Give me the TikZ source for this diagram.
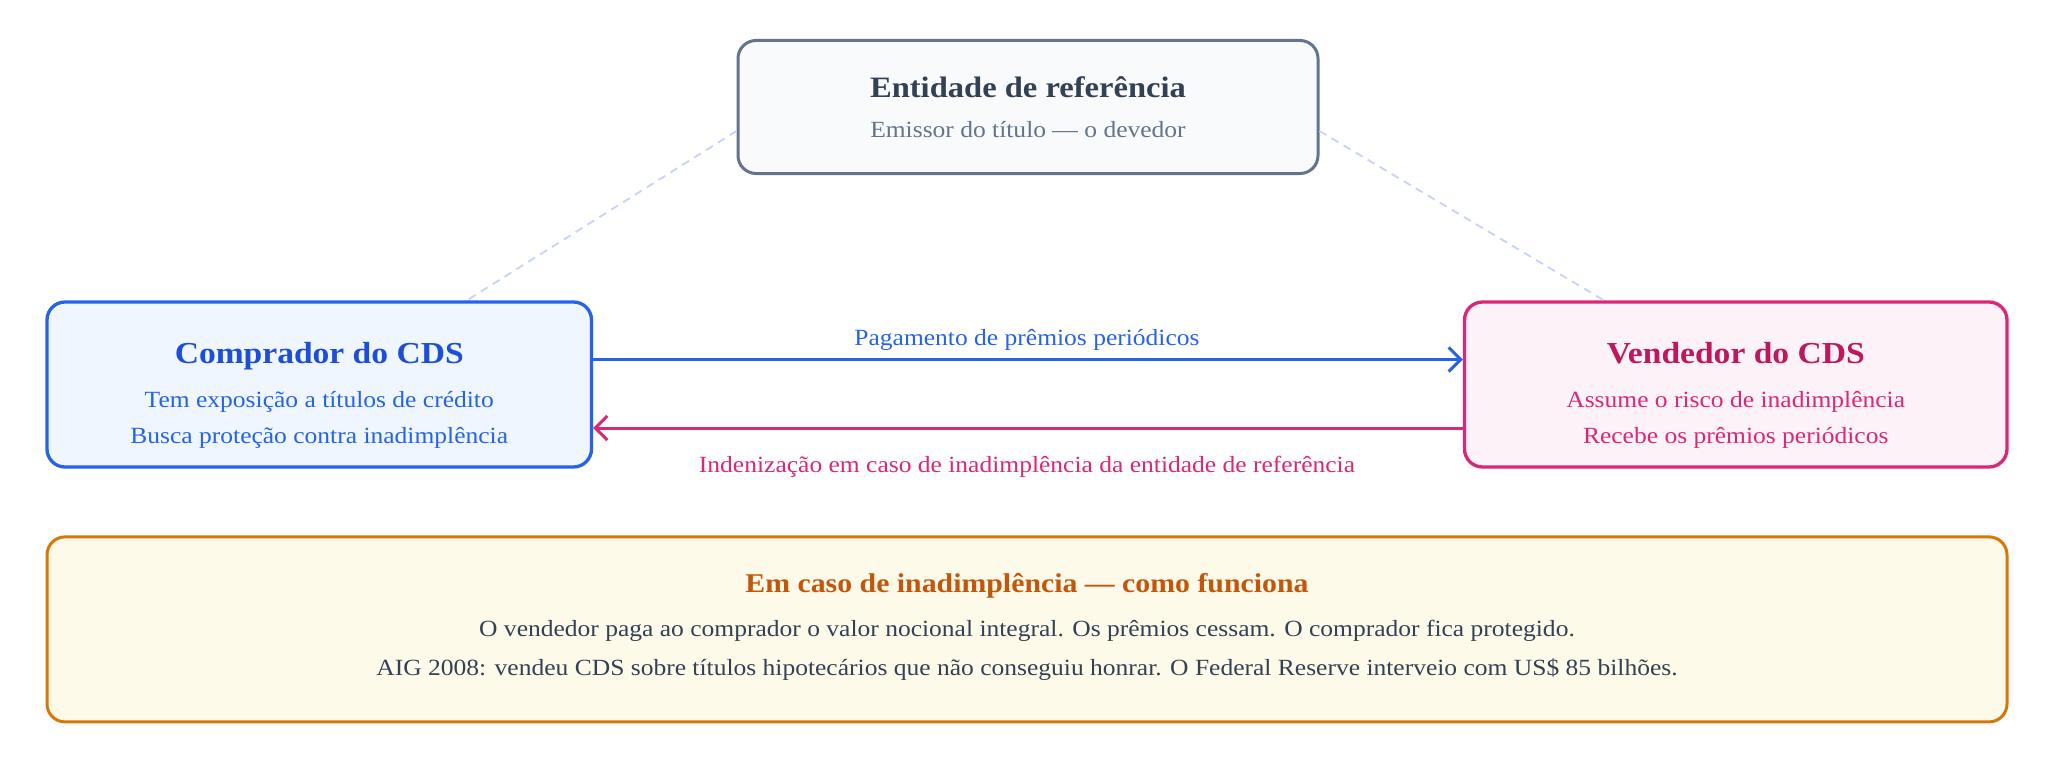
\documentclass[tikz,border=0pt]{standalone}
\usepackage{fontspec}
\setmainfont{Liberation Serif}[FakeStretch=1.1]
\usetikzlibrary{arrows.meta,calc}
\definecolor{slateB}{HTML}{64748B}
\definecolor{slateT}{HTML}{334155}
\definecolor{slateF}{HTML}{F8FAFC}
\definecolor{blueB}{HTML}{2563EB}
\definecolor{blueT}{HTML}{1D4ED8}
\definecolor{blueF}{HTML}{EFF6FF}
\definecolor{pinkB}{HTML}{DB2777}
\definecolor{pinkT}{HTML}{BE185D}
\definecolor{pinkF}{HTML}{FDF2F8}
\definecolor{amberB}{HTML}{D97706}
\definecolor{amberT}{HTML}{C2570C}
\definecolor{amberF}{HTML}{FEFAEA}
\definecolor{dashC}{HTML}{C7D2FE}
\begin{document}
\begin{tikzpicture}[x=1pt,y=-1pt,
  box/.style={rounded corners=18pt, inner sep=0pt, line width=3.3pt},
  txt/.style={inner sep=0pt, anchor=base},
  body/.style={txt, font=\fontsize{23.2}{28}\selectfont},
  ttl/.style={txt, font=\fontsize{#1}{36}\selectfont\bfseries},
  conn/.style={line width=3pt, -{Straight Barb[length=12pt,width=24pt]}},
  link/.style={dashC, line width=1.8pt, dash pattern=on 8pt off 6pt}
]
\useasboundingbox (0,0) rectangle (2048,757);
\fill[white] (0,0) rectangle (2048,757);

% boxes
\node[box, draw=slateB, fill=slateF, line width=3pt, minimum width=580pt, minimum height=133pt] (top) at (1028,107) {};
\node[box, draw=blueB, fill=blueF, minimum width=544.5pt, minimum height=165pt] (left) at (319.25,384.5) {};
\node[box, draw=pinkB, fill=pinkF, minimum width=542.5pt, minimum height=165pt] (right) at (1735.75,384.5) {};
\node[box, draw=amberB, fill=amberF, line width=3pt, minimum width=1960pt, minimum height=185pt] (bottom) at (1027,629.4) {};

% dashed links
\coordinate (tl) at (0,131);
\coordinate (lx) at (467,0);
\coordinate (rx) at (1604,0);
\draw[link] (top.west |- tl) -- (left.north -| lx);
\draw[link] (top.east |- tl) -- (right.north -| rx);

% arrows
\coordinate (by) at (0,359.5);
\coordinate (py) at (0,428);
\draw[conn, blueB] (left.east |- by) -- (right.west |- by);
\draw[conn, pinkB] (right.west |- py) -- (left.east |- py);
\node[body, text=blueB] (lblpay) at (1027,345) {Pagamento de prêmios periódicos};
\node[body, text=pinkB] (lblind) at (1027,472) {Indenização em caso de inadimplência da entidade de referência};

% texts
\node[ttl=29.6, text=slateT] (toptitle) at (1028,98) {Entidade de referência};
\node[body, text=slateB] (topsub) at (1028,138) {Emissor do título — o devedor};

\node[ttl=30.5, text=blueT] (lefttitle) at (319.25,363) {Comprador do CDS};
\node[body, text=blueB] (leftl1) at (319.25,407) {Tem exposição a títulos de crédito};
\node[body, text=blueB] (leftl2) at (319.25,443) {Busca proteção contra inadimplência};

\node[ttl=30.5, text=pinkT] (righttitle) at (1735.75,363) {Vendedor do CDS};
\node[body, text=pinkB] (rightl1) at (1735.75,407) {Assume o risco de inadimplência};
\node[body, text=pinkB] (rightl2) at (1735.75,443) {Recebe os prêmios periódicos};

\node[ttl=27.1, text=amberT] (bottitle) at (1027,592) {Em caso de inadimplência — como funciona};
\node[body, text=slateT] (botl1) at (1027,636) {O vendedor paga ao comprador o valor nocional integral. Os prêmios cessam. O comprador fica protegido.};
\node[body, text=slateT] (botl2) at (1027,675) {AIG 2008: vendeu CDS sobre títulos hipotecários que não conseguiu honrar. O Federal Reserve interveio com US\$ 85 bilhões.};
\end{tikzpicture}
\end{document}
